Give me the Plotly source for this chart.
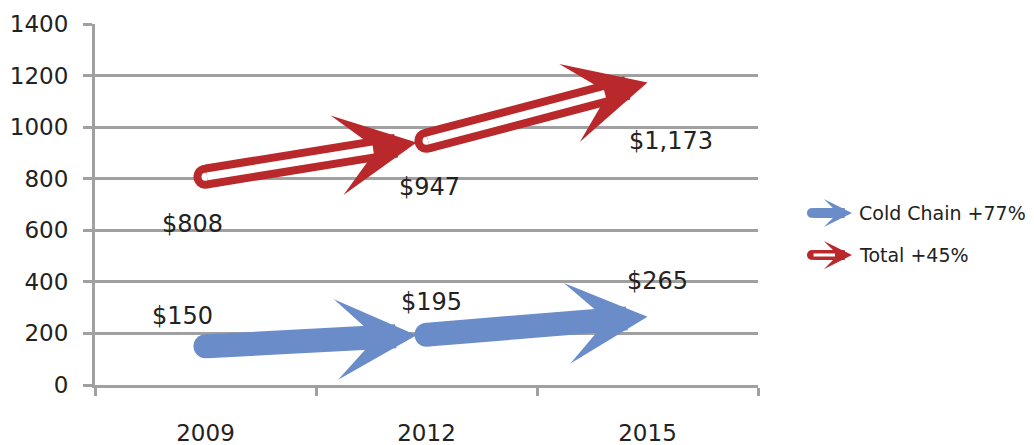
import plotly.graph_objects as go

# ---- data ----
years = ["2009", "2012", "2015"]
cold_chain = [150, 195, 265]
total = [808, 947, 1173]
series_names = ["Cold Chain +77%", "Total +45%"]
y_ticks = [0, 200, 400, 600, 800, 1000, 1200, 1400]

# ---- style ----
BLUE = "#6A8CC9"
RED = "#B9292B"
GRID = "#A0A0A0"
TXT = "#222222"
FONT = "DejaVu Sans"
SHAFT = 24
HEAD = 0.56
# label offsets (pixels) for data labels
blue_dx, blue_dy = [-23, 5, 10], [30, 33, 36]
red_dx, red_dy = [-13, 3, 23], [-47, -46, -58]


def money(v):
    return "$" + f"{v:,}"


fig = go.Figure()
# invisible trace to set categories
fig.add_trace(go.Scatter(x=years, y=total, mode="none", showlegend=False, hoverinfo="skip"))
# round tails
fig.add_trace(go.Scatter(x=years[:-1], y=cold_chain[:-1], mode="markers",
                         marker=dict(size=SHAFT, color=BLUE, line=dict(width=0)),
                         showlegend=False, hoverinfo="skip"))
fig.add_trace(go.Scatter(x=years[:-1], y=total[:-1], mode="markers",
                         marker=dict(size=SHAFT, color=RED, line=dict(width=0)),
                         showlegend=False, hoverinfo="skip"))
fig.add_trace(go.Scatter(x=years[:-1], y=total[:-1], mode="markers",
                         marker=dict(size=8, color="white", line=dict(width=0)),
                         showlegend=False, hoverinfo="skip"))

ann = []
for i in range(len(years) - 1):
    so = 10 if i == 0 else 0
    ann.append(dict(x=i + 1, y=cold_chain[i + 1], ax=i, ay=cold_chain[i],
                    xref="x", yref="y", axref="x", ayref="y", text="", showarrow=True,
                    arrowhead=3, arrowsize=HEAD, arrowwidth=SHAFT, arrowcolor=BLUE, standoff=so))
for i in range(len(years) - 1):
    so = 10 if i == 0 else 0
    ann.append(dict(x=i + 1, y=total[i + 1], ax=i, ay=total[i],
                    xref="x", yref="y", axref="x", ayref="y", text="", showarrow=True,
                    arrowhead=3, arrowsize=HEAD, arrowwidth=SHAFT, arrowcolor=RED, standoff=so))
    ann.append(dict(x=i + 1, y=total[i + 1], ax=i, ay=total[i],
                    xref="x", yref="y", axref="x", ayref="y", text="", showarrow=True,
                    arrowhead=0, arrowwidth=8, arrowcolor="white", standoff=44 + so))

for i, v in enumerate(cold_chain):
    ann.append(dict(x=i, y=v, text=money(v), showarrow=False, xshift=blue_dx[i],
                    yshift=blue_dy[i], font=dict(family=FONT, size=24, color=TXT)))
for i, v in enumerate(total):
    ann.append(dict(x=i, y=v, text=money(v), showarrow=False, xshift=red_dx[i],
                    yshift=red_dy[i], font=dict(family=FONT, size=24, color=TXT)))

# ---- legend (drawn manually with arrows) ----
leg_y = [0.4765, 0.360]
leg_x_tip = 1.1418
leg_x_tail = 1.0814
leg_x_text = 1.150
shapes = []
ann.append(dict(x=leg_x_tip, y=leg_y[0], xref="paper", yref="paper", ax=-40, ay=0,
                text="", showarrow=True, arrowhead=3, arrowsize=0.47, arrowwidth=10,
                arrowcolor=BLUE))
ann.append(dict(x=leg_x_tip, y=leg_y[1], xref="paper", yref="paper", ax=-40, ay=0,
                text="", showarrow=True, arrowhead=3, arrowsize=0.47, arrowwidth=10,
                arrowcolor=RED))
ann.append(dict(x=leg_x_tip, y=leg_y[1], xref="paper", yref="paper", ax=-40, ay=0,
                text="", showarrow=True, arrowhead=0, arrowwidth=3, arrowcolor="white",
                standoff=17))
for k, col in enumerate([BLUE, RED]):
    shapes.append(dict(type="circle", xref="paper", yref="paper", xsizemode="pixel",
                       ysizemode="pixel", xanchor=leg_x_tail, yanchor=leg_y[k],
                       x0=-5, x1=5, y0=-5, y1=5, fillcolor=col, line=dict(width=0),
                       layer="below"))
for k, name in enumerate(series_names):
    ann.append(dict(x=leg_x_text, y=leg_y[k], xref="paper", yref="paper", text=name,
                    showarrow=False, xanchor="left", yanchor="middle",
                    font=dict(family=FONT, size=19, color=TXT)))

fig.update_layout(
    width=1026, height=437,
    margin=dict(l=87, r=276, t=16, b=60, autoexpand=False),
    paper_bgcolor="white", plot_bgcolor="white",
    showlegend=False,
    annotations=ann,
    shapes=shapes,
    xaxis=dict(type="category", categoryorder="array", categoryarray=years,
               range=[-0.5, len(years) - 0.5], tickson="boundaries",
               showgrid=False, showline=True, linecolor=GRID, linewidth=3,
               ticks="outside", ticklen=8, tickwidth=3, tickcolor=GRID,
               ticklabelstandoff=25, zeroline=False, automargin=False,
               tickfont=dict(family=FONT, size=23, color=TXT)),
    yaxis=dict(range=[0, 1400], tickvals=y_ticks, showgrid=True, gridcolor=GRID,
               gridwidth=3, showline=True, linecolor=GRID, linewidth=3,
               ticks="outside", ticklen=9, tickwidth=3, tickcolor=GRID,
               ticklabelstandoff=10, zeroline=False, automargin=False,
               tickfont=dict(family=FONT, size=23, color=TXT)),
)

fig.write_html("out.html")
